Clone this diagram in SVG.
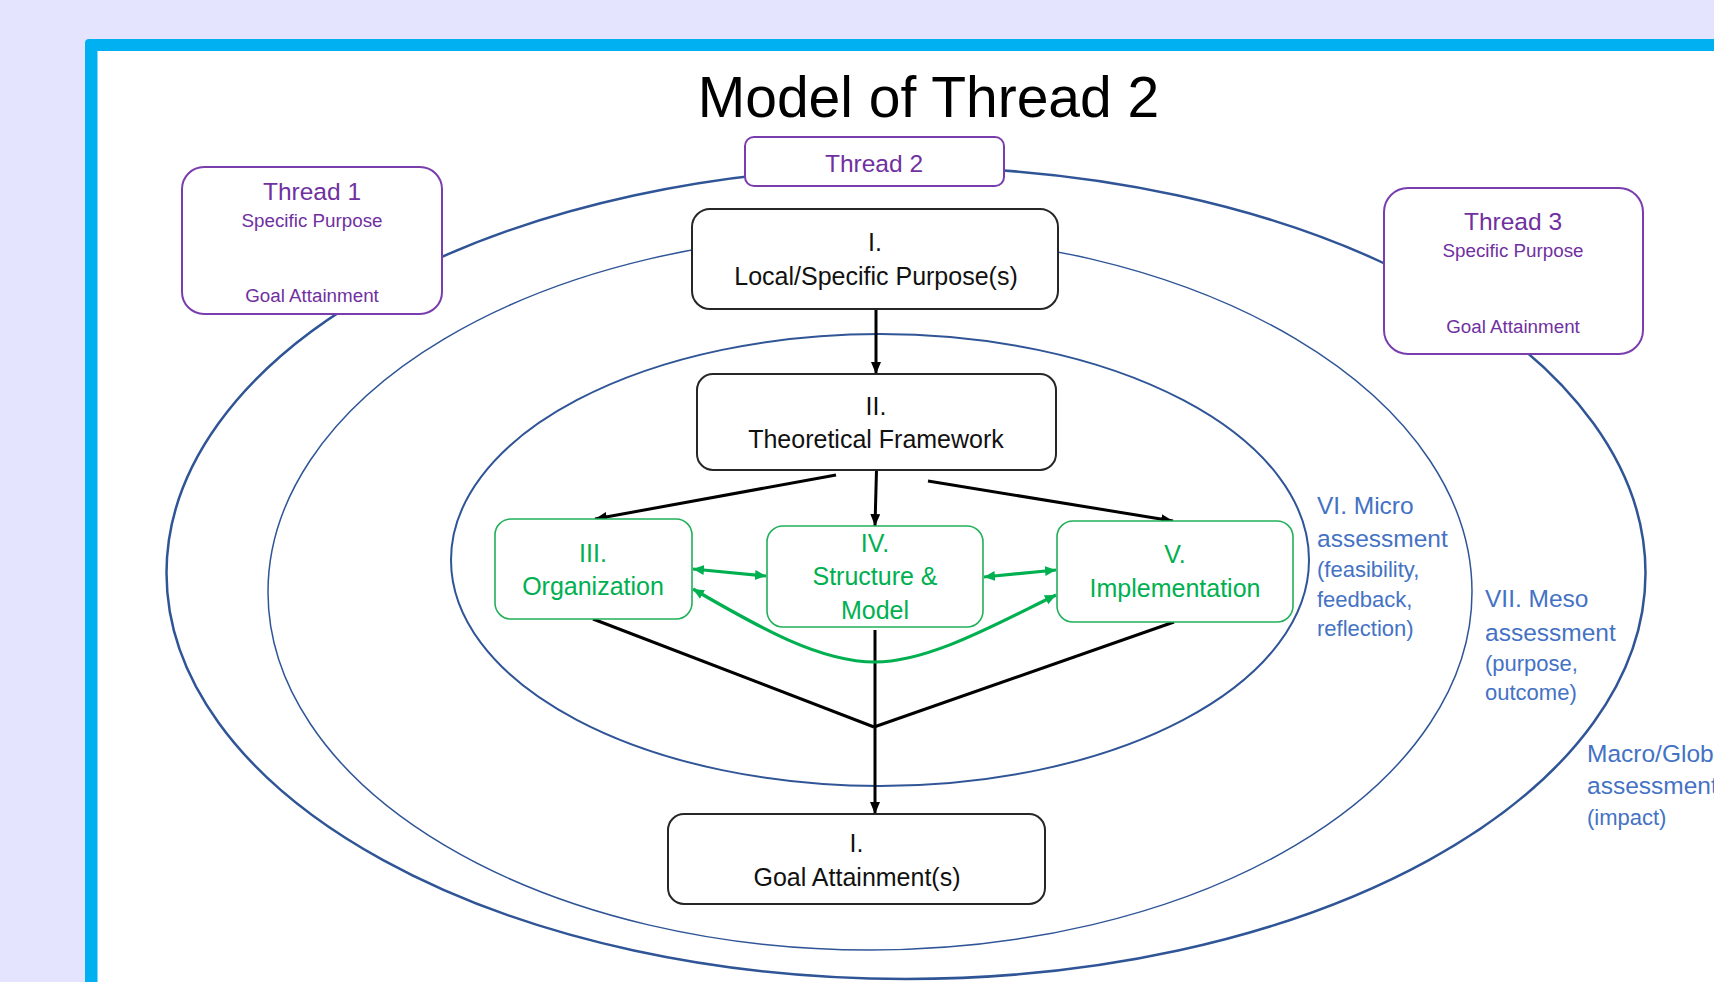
<svg xmlns="http://www.w3.org/2000/svg" width="1714" height="982" viewBox="0 0 1714 982">
<style>
text{font-family:"Liberation Sans",Arial,sans-serif;text-anchor:middle}
.ell{fill:none;stroke:#2F5597}
.pbox{fill:#fff;stroke:#7A3DAE;stroke-width:2}
.ptxt{fill:#7030A0}
.bbox{fill:#fff;stroke:#262626;stroke-width:2}
.btxt{fill:#111;font-size:25px}
.gbox{fill:#fff;stroke:#22B05A;stroke-width:1.6}
.gtxt{fill:#00B050;font-size:25px}
.blk{stroke:#000;stroke-width:3;fill:none}
.grn{stroke:#00B050;stroke-width:3.2;fill:none}
.lbl{fill:#4472C4;text-anchor:start}
.l1{font-size:24.5px}
.l2{font-size:22px}
</style>
<defs>
<marker id="ab" markerUnits="userSpaceOnUse" markerWidth="14" markerHeight="12" refX="12" refY="5" orient="auto"><path d="M0,0 L12,5 L0,10 z" fill="#000"/></marker>
<marker id="ag" markerUnits="userSpaceOnUse" markerWidth="14" markerHeight="12" refX="11" refY="5" orient="auto-start-reverse"><path d="M0,0 L11,5 L0,10 z" fill="#00B050"/></marker>
</defs>
<rect x="0" y="0" width="1714" height="982" fill="#E4E4FE"/>
<rect x="85" y="39" width="1700" height="1000" rx="4" fill="#00B0F0"/>
<rect x="97.5" y="51" width="1700" height="1000" fill="#fff"/>
<text x="928.5" y="117" font-size="57" fill="#000">Model of Thread 2</text>
<g id="assessment-levels">
<ellipse class="ell" cx="906" cy="573" rx="739.5" ry="406" stroke-width="2.5"/>
<ellipse class="ell" cx="870" cy="592" rx="602" ry="358" stroke-width="1.5"/>
<ellipse class="ell" cx="880" cy="560" rx="429" ry="226" stroke-width="2"/>
</g>
<g id="connectors">
<line class="blk" x1="876" y1="309" x2="876" y2="374" marker-end="url(#ab)"/>
<line class="blk" x1="836" y1="475" x2="595" y2="519" marker-end="url(#ab)"/>
<line class="blk" x1="876.5" y1="470" x2="875" y2="526" marker-end="url(#ab)"/>
<line class="blk" x1="928" y1="481" x2="1173" y2="521" marker-end="url(#ab)"/>
<line class="blk" x1="593" y1="619" x2="874" y2="727"/>
<line class="blk" x1="1174" y1="622" x2="874" y2="727"/>
<line class="blk" x1="875" y1="630" x2="875" y2="814" marker-end="url(#ab)"/>
<line class="grn" x1="693" y1="569" x2="766" y2="576" marker-start="url(#ag)" marker-end="url(#ag)"/>
<line class="grn" x1="984" y1="577" x2="1056" y2="570" marker-start="url(#ag)" marker-end="url(#ag)"/>
<path class="grn" d="M693,589 C760,628 820,662 875,662 C930,662 1000,622 1056,595" marker-start="url(#ag)" marker-end="url(#ag)"/>
</g>
<g id="thread1">
<rect class="pbox" x="182" y="167" width="260" height="147" rx="22"/>
<text class="ptxt" x="312" y="200" font-size="24.5">Thread 1</text>
<text class="ptxt" x="312" y="227" font-size="18.8">Specific Purpose</text>
<text class="ptxt" x="312" y="302" font-size="18.8">Goal Attainment</text>
</g>
<g id="thread2">
<rect class="pbox" x="745" y="137" width="259" height="49" rx="9"/>
<text class="ptxt" x="874" y="172" font-size="24.5">Thread 2</text>
</g>
<g id="thread3">
<rect class="pbox" x="1384" y="188" width="259" height="166" rx="24"/>
<text class="ptxt" x="1513" y="230" font-size="24.5">Thread 3</text>
<text class="ptxt" x="1513" y="257" font-size="18.8">Specific Purpose</text>
<text class="ptxt" x="1513" y="333" font-size="18.8">Goal Attainment</text>
</g>
<g id="local-purpose">
<rect class="bbox" x="692" y="209" width="366" height="100" rx="18"/>
<text class="btxt" x="875" y="251">I.</text>
<text class="btxt" x="876" y="285" font-size="24.7">Local/Specific Purpose(s)</text>
</g>
<g id="theoretical-framework">
<rect class="bbox" x="697" y="374" width="359" height="96" rx="16"/>
<text class="btxt" x="876" y="415">II.</text>
<text class="btxt" x="876" y="448">Theoretical Framework</text>
</g>
<g id="organization">
<rect class="gbox" x="495" y="519" width="197" height="100" rx="16"/>
<text class="gtxt" x="593" y="562">III.</text>
<text class="gtxt" x="593" y="595">Organization</text>
</g>
<g id="structure-model">
<rect class="gbox" x="767" y="526" width="216" height="101" rx="16"/>
<text class="gtxt" x="875" y="552">IV.</text>
<text class="gtxt" x="875" y="585">Structure &amp;</text>
<text class="gtxt" x="875" y="619">Model</text>
</g>
<g id="implementation">
<rect class="gbox" x="1057" y="521" width="236" height="101" rx="16"/>
<text class="gtxt" x="1175" y="563">V.</text>
<text class="gtxt" x="1175" y="597">Implementation</text>
</g>
<g id="goal-attainment">
<rect class="bbox" x="668" y="814" width="377" height="90" rx="16"/>
<text class="btxt" x="856.5" y="852">I.</text>
<text class="btxt" x="857" y="886">Goal Attainment(s)</text>
</g>
<g id="micro-label">
<text class="lbl l1" x="1317" y="514">VI. Micro</text>
<text class="lbl l1" x="1317" y="547">assessment</text>
<text class="lbl l2" x="1317" y="577">(feasibility,</text>
<text class="lbl l2" x="1317" y="607">feedback,</text>
<text class="lbl l2" x="1317" y="636">reflection)</text>
</g>
<g id="meso-label">
<text class="lbl l1" x="1485" y="607">VII. Meso</text>
<text class="lbl l1" x="1485" y="641">assessment</text>
<text class="lbl l2" x="1485" y="671">(purpose,</text>
<text class="lbl l2" x="1485" y="700">outcome)</text>
</g>
<g id="macro-label">
<text class="lbl l1" x="1587" y="762">Macro/Glob</text>
<text class="lbl l1" x="1587" y="794">assessment</text>
<text class="lbl l2" x="1587" y="825">(impact)</text>
</g>
</svg>
